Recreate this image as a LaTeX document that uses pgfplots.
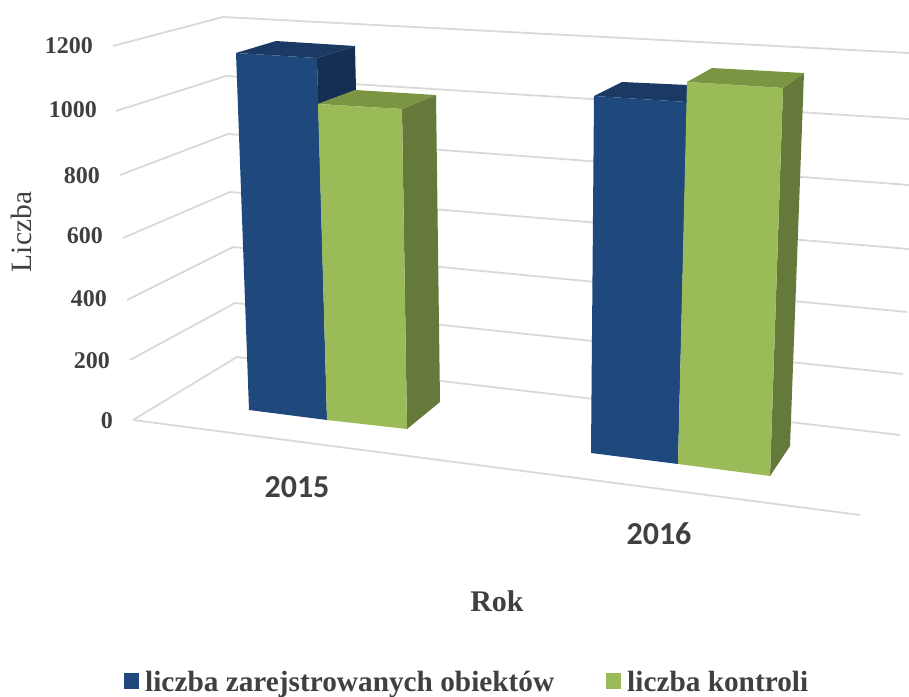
\documentclass[border=0pt]{standalone}
\usepackage{pgfplots}
\pgfplotsset{compat=1.18}
\usepackage{fontspec}
\setmainfont{Liberation Serif}
\newfontfamily\carlito{Carlito}
\definecolor{blueF}{HTML}{1F497D}
\definecolor{blueT}{HTML}{1A3A63}
\definecolor{blueS}{HTML}{152F52}
\definecolor{greenF}{HTML}{9BBB59}
\definecolor{greenT}{HTML}{7B9543}
\definecolor{greenS}{HTML}{657A3A}
\definecolor{gridc}{HTML}{D9D9D9}
\definecolor{txt}{HTML}{404040}
\begin{document}
\begin{tikzpicture}
\path[use as bounding box] (0,0) rectangle (909bp,697bp);
\begin{axis}[
  at={(0,0)},anchor=south west,
  width=909bp,height=697bp,scale only axis,
  xmin=0,xmax=909,ymin=0,ymax=697,y dir=reverse,
  hide axis,
]
% gridlines: left wall and back wall
\addplot[gridc,line width=1.8bp,forget plot] coordinates {(133,420)(237,357)(900,435)};
\addplot[gridc,line width=1.8bp,forget plot] coordinates {(130,360)(235,303)(903,374)};
\addplot[gridc,line width=1.8bp,forget plot] coordinates {(127,300)(233,247)(907,312)};
\addplot[gridc,line width=1.8bp,forget plot] coordinates {(123,238)(230,192)(909,249)};
\addplot[gridc,line width=1.8bp,forget plot] coordinates {(120,175)(228,134)(909,185)};
\addplot[gridc,line width=1.8bp,forget plot] coordinates {(116,111)(226,76)(909,119)};
\addplot[gridc,line width=1.8bp,forget plot] coordinates {(113,46)(223,17)(909,53)};
\addplot[gridc,line width=1.8bp,forget plot] coordinates {(133,420)(860,515)};
% 2015 blue
\addplot[fill=blueS,draw=none,forget plot] coordinates {(317,58)(355,46)(356,90)(318,104)} -- cycle;
\addplot[fill=blueT,draw=none,forget plot] coordinates {(236,53)(276,41)(355,46)(317,58)} -- cycle;
\addplot[fill=blueF,draw=none,forget plot] coordinates {(236,53)(317,58)(327,420)(249,410)} -- cycle;
% 2015 green
\addplot[fill=greenS,draw=none,forget plot] coordinates {(402,109)(436,95)(440,402)(407,429)} -- cycle;
\addplot[fill=greenT,draw=none,forget plot] coordinates {(318,104)(355,90)(436,95)(402,109)} -- cycle;
\addplot[fill=greenF,draw=none,forget plot] coordinates {(318,104)(402,109)(407,429)(327,420)} -- cycle;
% 2016 blue
\addplot[fill=blueT,draw=none,forget plot] coordinates {(594,96)(622,82)(688,85)(687,102)} -- cycle;
\addplot[fill=blueF,draw=none,forget plot] coordinates {(594,96)(687,102)(678,464)(591,453)} -- cycle;
% 2016 green
\addplot[fill=greenS,draw=none,forget plot] coordinates {(783,88)(804,73)(790,446)(770,476)} -- cycle;
\addplot[fill=greenT,draw=none,forget plot] coordinates {(687,82)(712,68)(804,73)(783,88)} -- cycle;
\addplot[fill=greenF,draw=none,forget plot] coordinates {(687,82)(783,88)(770,476)(678,464)} -- cycle;
% legend swatches
\addplot[fill=blueF,draw=none,forget plot] coordinates {(124,673)(139,673)(139,689)(124,689)} -- cycle;
\addplot[fill=greenF,draw=none,forget plot] coordinates {(606,673)(621,673)(621,689)(606,689)} -- cycle;
% tick labels
\tikzset{tl/.style={anchor=base east,inner sep=0pt,text=txt,font=\fontsize{24bp}{26bp}\selectfont\bfseries},
  leg/.style={anchor=base west,inner sep=0pt,text=txt,font=\fontsize{29.3bp}{31bp}\selectfont\bfseries}}
\node[tl] at (axis cs:93,54) {1200};
\node[tl] at (axis cs:97,118) {1000};
\node[tl] at (axis cs:100,183) {800};
\node[tl] at (axis cs:103,243) {600};
\node[tl] at (axis cs:107,306) {400};
\node[tl] at (axis cs:110,368) {200};
\node[tl] at (axis cs:113,428) {0};
\node[inner sep=0pt,text=txt,font=\carlito\fontsize{32bp}{34bp}\selectfont\bfseries] at (axis cs:297,487) {2015};
\node[inner sep=0pt,text=txt,font=\carlito\fontsize{32bp}{34bp}\selectfont\bfseries] at (axis cs:659,534) {2016};
\node[anchor=base,inner sep=0pt,text=txt,font=\fontsize{30bp}{32bp}\selectfont\bfseries] at (axis cs:497,611) {Rok};
\node[rotate=90,anchor=base,inner sep=0pt,text=txt,font=\fontsize{29.5bp}{31bp}\selectfont] at (axis cs:31,232) {Liczba};
\node[leg] at (axis cs:145,691) {liczba zarejstrowanych obiektów};
\node[leg] at (axis cs:627,691) {liczba kontroli};
\end{axis}
\end{tikzpicture}
\end{document}
